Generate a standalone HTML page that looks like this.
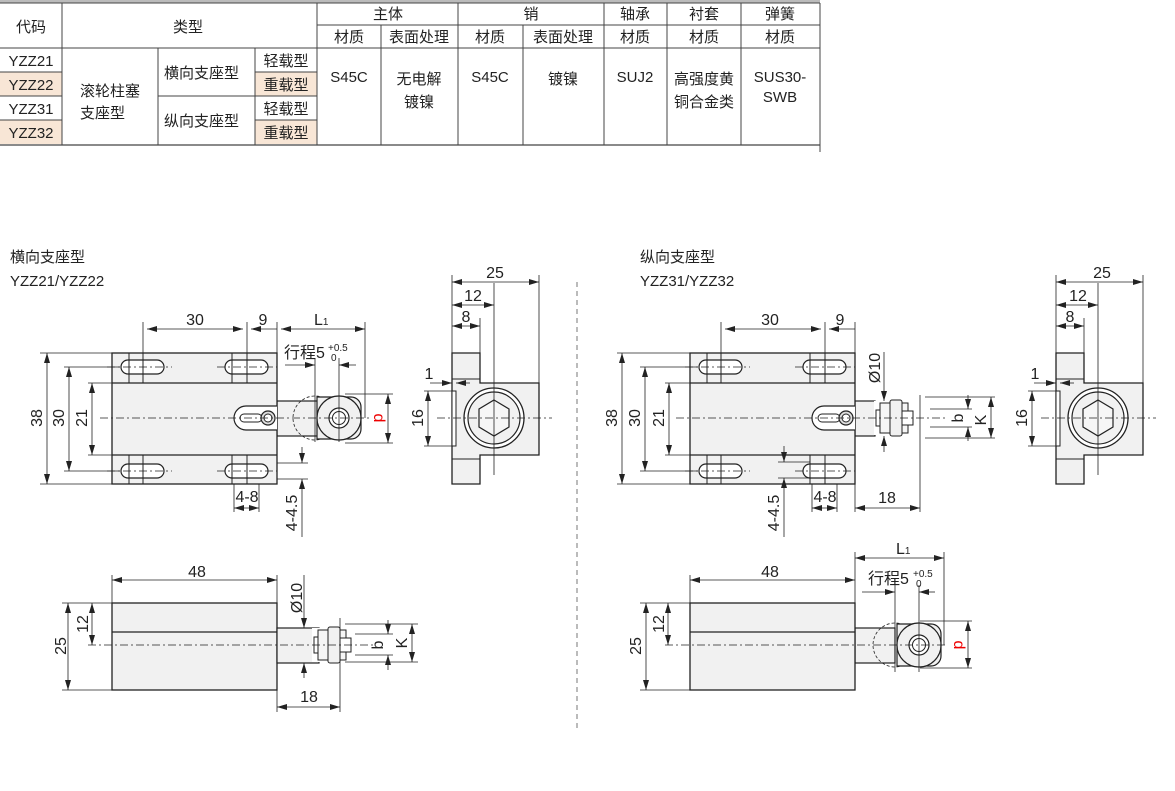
<!DOCTYPE html>
<html><head><meta charset="utf-8"><style>
body{margin:0;background:#fff;width:1175px;height:791px;overflow:hidden}
svg{display:block;font-family:"Liberation Sans","Noto Sans CJK SC",sans-serif}
</style></head><body>
<svg width="1175" height="791" viewBox="0 0 1175 791" xmlns="http://www.w3.org/2000/svg">
<defs>
<marker id="a" viewBox="0 0 10 6" refX="10" refY="3" markerWidth="10" markerHeight="6" orient="auto-start-reverse" markerUnits="userSpaceOnUse"><path d="M0,0L10,3L0,6z" fill="#222"/></marker>
<g id="tv">
<rect x="0" y="0" width="165" height="131" fill="#f1f1f1" stroke="#222" stroke-width="1.3"/>
<line x1="0" y1="30" x2="165" y2="30" stroke="#222" stroke-width="1.3"/>
<line x1="0" y1="102" x2="165" y2="102" stroke="#222" stroke-width="1.3"/>
<g fill="#fff" stroke="#222" stroke-width="1.2">
<rect x="9" y="7" width="43" height="14" rx="7"/><rect x="113" y="7" width="43" height="14" rx="7"/>
<rect x="9" y="111" width="43" height="14" rx="7"/><rect x="113" y="111" width="43" height="14" rx="7"/>
</g>
<g stroke="#222" stroke-width="1">
<line x1="17" y1="0" x2="17" y2="30"/><line x1="31" y1="0" x2="31" y2="30"/><line x1="120" y1="0" x2="120" y2="30"/><line x1="135" y1="0" x2="135" y2="30"/>
<line x1="17" y1="102" x2="17" y2="131"/><line x1="31" y1="102" x2="31" y2="131"/><line x1="120" y1="102" x2="120" y2="131"/><line x1="135" y1="102" x2="135" y2="131"/>
</g>
<g stroke="#222" stroke-width="0.8" stroke-dasharray="8,3,2,3">
<line x1="-5" y1="14" x2="60" y2="14"/><line x1="105" y1="14" x2="165" y2="14"/><line x1="-5" y1="118" x2="60" y2="118"/><line x1="105" y1="118" x2="165" y2="118"/>
</g>
<path d="M165,53 H134 a12,12 0 0 0 0,24 H165" fill="#fff" stroke="#222" stroke-width="1.2"/>
<rect x="128" y="61" width="22" height="8" rx="4" fill="#fff" stroke="#222"/>
<circle cx="156" cy="65" r="7" fill="#ddd" stroke="#222" stroke-width="1.2"/><circle cx="156" cy="65" r="4" fill="#fff" stroke="#222"/>
</g>
<g id="sv">
<path d="M0,0 H28 V30 H87 V102 H28 V131 H0 Z" fill="#f1f1f1" stroke="#222" stroke-width="1.3"/>
<rect x="0" y="38" width="4" height="55" fill="#fff" stroke="#222"/>
<line x1="0" y1="26" x2="28" y2="26" stroke="#222"/><line x1="0" y1="106" x2="28" y2="106" stroke="#222"/>
<circle cx="42" cy="65" r="30" fill="#fff" stroke="#222" stroke-width="1.3"/>
<circle cx="42" cy="65" r="26" fill="#f1f1f1" stroke="#222" stroke-width="1.2"/>
<polygon points="42,47 57,56 57,74 42,83 27,74 27,56" fill="#f6f6f6" stroke="#222" stroke-width="1.2"/>
<line x1="-15" y1="65" x2="100" y2="65" stroke="#222" stroke-width="0.8" stroke-dasharray="8,3,2,3"/>
<line x1="42" y1="-70" x2="42" y2="122" stroke="#222" stroke-width="0.8"/>
</g>
<g id="bv">
<rect x="0" y="0" width="165" height="87" fill="#f1f1f1" stroke="#222" stroke-width="1.3"/>
<line x1="0" y1="29" x2="165" y2="29" stroke="#222" stroke-width="1.3"/>
</g>
<g id="roller">
<circle cx="-24" cy="0" r="22" fill="none" stroke="#222" stroke-width="0.8" stroke-dasharray="3,2"/>
<path d="M-22,-21 H12 a10,10 0 0 1 10,10 V11 a10,10 0 0 1 -10,10 H-22 Z" fill="#f1f1f1" stroke="#222" stroke-width="1.2"/>
<circle cx="0" cy="0" r="22" fill="#f1f1f1" stroke="#222" stroke-width="1.2"/>
<circle cx="0" cy="0" r="10" fill="#fff" stroke="#222" stroke-width="1.2"/>
<circle cx="0" cy="0" r="6.5" fill="#fff" stroke="#222"/>
</g>
<g id="pin">
<rect x="14" y="-17" width="36" height="34" fill="#fff" stroke="none"/>
<rect x="16" y="-8" width="12" height="16" fill="#fff" stroke="#222"/>
<rect x="20" y="-15" width="28" height="30" fill="#f6f6f6" stroke="#222"/>
<rect x="30" y="-18" width="12" height="36" rx="2" fill="#f1f1f1" stroke="#222"/>
<rect x="42" y="-7" width="11" height="14" fill="#fff" stroke="#222"/>
</g>
</defs>

<!-- TABLE -->
<g font-size="15" fill="#222">
<rect x="0" y="0" width="820" height="3" fill="#bbb"/>
<rect x="0" y="72" width="62" height="24" fill="#f8e6d6"/><rect x="0" y="120" width="62" height="24" fill="#f8e6d6"/>
<rect x="255" y="72" width="62" height="24" fill="#f8e6d6"/><rect x="255" y="120" width="62" height="24" fill="#f8e6d6"/>
<g stroke="#444" stroke-width="1" fill="none">
<line x1="0" y1="3" x2="820" y2="3"/>
<line x1="317" y1="25" x2="820" y2="25"/>
<line x1="0" y1="48" x2="820" y2="48"/>
<line x1="0" y1="145" x2="820" y2="145" stroke-width="1.3"/>
<line x1="0" y1="72" x2="62" y2="72"/><line x1="0" y1="96" x2="62" y2="96"/><line x1="0" y1="120" x2="62" y2="120"/>
<line x1="158" y1="96" x2="317" y2="96"/><line x1="255" y1="72" x2="317" y2="72"/><line x1="255" y1="120" x2="317" y2="120"/>
<line x1="62" y1="3" x2="62" y2="145"/><line x1="158" y1="48" x2="158" y2="145"/><line x1="255" y1="48" x2="255" y2="145"/>
<line x1="317" y1="3" x2="317" y2="145"/><line x1="381" y1="25" x2="381" y2="145"/><line x1="458" y1="3" x2="458" y2="145"/>
<line x1="523" y1="25" x2="523" y2="145"/><line x1="604" y1="3" x2="604" y2="145"/><line x1="667" y1="3" x2="667" y2="145"/><line x1="741" y1="3" x2="741" y2="145"/>
<line x1="820" y1="3" x2="820" y2="152"/>
</g>
<text x="31" y="32" text-anchor="middle">代码</text><text x="188" y="32" text-anchor="middle">类型</text>
<text x="388" y="19" text-anchor="middle">主体</text><text x="531" y="19" text-anchor="middle">销</text>
<text x="635" y="19" text-anchor="middle">轴承</text><text x="704" y="19" text-anchor="middle">衬套</text><text x="780" y="19" text-anchor="middle">弹簧</text>
<text x="349" y="42" text-anchor="middle">材质</text><text x="419" y="42" text-anchor="middle">表面处理</text>
<text x="490" y="42" text-anchor="middle">材质</text><text x="563" y="42" text-anchor="middle">表面处理</text>
<text x="635" y="42" text-anchor="middle">材质</text><text x="704" y="42" text-anchor="middle">材质</text><text x="780" y="42" text-anchor="middle">材质</text>
<text x="31" y="66" text-anchor="middle">YZZ21</text><text x="31" y="90" text-anchor="middle">YZZ22</text>
<text x="31" y="114" text-anchor="middle">YZZ31</text><text x="31" y="138" text-anchor="middle">YZZ32</text>
<text x="80" y="96">滚轮柱塞</text><text x="80" y="118">支座型</text>
<text x="164" y="78">横向支座型</text><text x="164" y="126">纵向支座型</text>
<text x="286" y="66" text-anchor="middle">轻载型</text><text x="286" y="90" text-anchor="middle">重载型</text>
<text x="286" y="114" text-anchor="middle">轻载型</text><text x="286" y="138" text-anchor="middle">重载型</text>
<text x="349" y="82" text-anchor="middle">S45C</text><text x="419" y="84" text-anchor="middle">无电解</text><text x="419" y="107" text-anchor="middle">镀镍</text>
<text x="490" y="82" text-anchor="middle">S45C</text><text x="563" y="84" text-anchor="middle">镀镍</text>
<text x="635" y="82" text-anchor="middle">SUJ2</text><text x="704" y="84" text-anchor="middle">高强度黄</text><text x="704" y="107" text-anchor="middle">铜合金类</text>
<text x="780" y="82" text-anchor="middle">SUS30-</text><text x="780" y="102" text-anchor="middle">SWB</text>
</g>

<g font-size="15" fill="#222">
<text x="10" y="262">横向支座型</text><text x="10" y="286">YZZ21/YZZ22</text>
<text x="640" y="262">纵向支座型</text><text x="640" y="286">YZZ31/YZZ32</text>
</g>
<line x1="577" y1="282" x2="577" y2="728" stroke="#777" stroke-dasharray="5,4"/>

<!-- LEFT TOP VIEW -->
<rect x="277" y="401" width="42" height="35" fill="#f1f1f1" stroke="#222" stroke-width="1.2"/>
<use href="#tv" x="112" y="353"/>
<use href="#roller" x="339" y="418"/>
<line x1="100" y1="418" x2="372" y2="418" stroke="#222" stroke-width="0.8" stroke-dasharray="8,3,2,3"/>
<g stroke="#222" stroke-width="0.8" fill="none">
<line x1="143" y1="322" x2="143" y2="353"/><line x1="247" y1="322" x2="247" y2="353"/><line x1="277" y1="322" x2="277" y2="401"/><line x1="365" y1="322" x2="365" y2="418"/>
<line x1="147" y1="329" x2="243" y2="329" marker-start="url(#a)" marker-end="url(#a)"/>
<line x1="251" y1="329" x2="277" y2="329" marker-start="url(#a)"/>
<line x1="281" y1="329" x2="365" y2="329" marker-start="url(#a)" marker-end="url(#a)"/>
<line x1="285" y1="365" x2="315" y2="365" marker-end="url(#a)"/><line x1="356" y1="365" x2="339" y2="365" marker-end="url(#a)"/>
<line x1="315" y1="358" x2="315" y2="442"/><line x1="339" y1="358" x2="339" y2="442"/>
<line x1="40" y1="353" x2="112" y2="353"/><line x1="40" y1="484" x2="112" y2="484"/>
<line x1="47" y1="353" x2="47" y2="484" marker-start="url(#a)" marker-end="url(#a)"/>
<line x1="64" y1="367" x2="120" y2="367"/><line x1="64" y1="471" x2="120" y2="471"/>
<line x1="69" y1="367" x2="69" y2="471" marker-start="url(#a)" marker-end="url(#a)"/>
<line x1="88" y1="383" x2="112" y2="383"/><line x1="88" y1="455" x2="112" y2="455"/>
<line x1="92" y1="383" x2="92" y2="455" marker-start="url(#a)" marker-end="url(#a)"/>
<line x1="345" y1="394" x2="393" y2="394"/><line x1="345" y1="443" x2="393" y2="443"/>
<line x1="388" y1="394" x2="388" y2="443" marker-start="url(#a)" marker-end="url(#a)"/>
<line x1="234" y1="484" x2="234" y2="512"/><line x1="259" y1="484" x2="259" y2="512"/>
<line x1="234" y1="508" x2="259" y2="508" marker-start="url(#a)" marker-end="url(#a)"/>
<line x1="277" y1="463" x2="308" y2="463"/><line x1="277" y1="479" x2="308" y2="479"/>
<line x1="302" y1="447" x2="302" y2="463" marker-end="url(#a)"/><line x1="302" y1="537" x2="302" y2="479" marker-end="url(#a)"/>
</g>
<g font-size="16" fill="#222">
<text x="195" y="325" text-anchor="middle">30</text><text x="263" y="325" text-anchor="middle">9</text>
<text x="314" y="325">L<tspan font-size="10">1</tspan></text>
<text x="284" y="358">行程5</text><text x="328" y="351" font-size="10">+0.5</text><text x="331" y="361" font-size="10">0</text>
<text transform="translate(42,418) rotate(-90)" text-anchor="middle">38</text>
<text transform="translate(64,418) rotate(-90)" text-anchor="middle">30</text>
<text transform="translate(87,418) rotate(-90)" text-anchor="middle">21</text>
<text transform="translate(374,418) rotate(90)" text-anchor="middle" fill="#e00">d</text>
<text x="247" y="502" text-anchor="middle">4-8</text>
<text transform="translate(297,513) rotate(-90)" text-anchor="middle">4-4.5</text>
</g>

<!-- LEFT SIDE VIEW -->
<use href="#sv" x="452" y="353"/>
<g stroke="#222" stroke-width="0.8">
<line x1="452" y1="275" x2="452" y2="353"/><line x1="539" y1="275" x2="539" y2="383"/><line x1="480" y1="318" x2="480" y2="353"/>
<line x1="452" y1="282" x2="539" y2="282" marker-start="url(#a)" marker-end="url(#a)"/>
<line x1="452" y1="305" x2="494" y2="305" marker-start="url(#a)" marker-end="url(#a)"/>
<line x1="452" y1="326" x2="480" y2="326" marker-start="url(#a)" marker-end="url(#a)"/>
<line x1="430" y1="383" x2="452" y2="383" marker-end="url(#a)"/><line x1="470" y1="383" x2="456" y2="383" marker-end="url(#a)"/>
<line x1="424" y1="391" x2="452" y2="391"/><line x1="424" y1="446" x2="452" y2="446"/>
<line x1="428" y1="391" x2="428" y2="446" marker-start="url(#a)" marker-end="url(#a)"/>
</g>
<g font-size="16" fill="#222">
<text x="495" y="278" text-anchor="middle">25</text><text x="473" y="301" text-anchor="middle">12</text><text x="466" y="322" text-anchor="middle">8</text>
<text x="429" y="379" text-anchor="middle">1</text>
<text transform="translate(423,418) rotate(-90)" text-anchor="middle">16</text>
</g>

<!-- LEFT BOTTOM VIEW -->
<use href="#bv" x="112" y="603"/>
<rect x="277" y="628" width="42" height="35" fill="#f1f1f1" stroke="#222" stroke-width="1.2"/>
<use href="#pin" x="298" y="645"/>
<line x1="88" y1="645" x2="375" y2="645" stroke="#222" stroke-width="0.8" stroke-dasharray="8,3,2,3"/>
<g stroke="#222" stroke-width="0.8">
<line x1="112" y1="575" x2="112" y2="603"/><line x1="277" y1="575" x2="277" y2="712"/>
<line x1="112" y1="580" x2="277" y2="580" marker-start="url(#a)" marker-end="url(#a)"/>
<line x1="62" y1="603" x2="112" y2="603"/><line x1="62" y1="690" x2="112" y2="690"/>
<line x1="68" y1="603" x2="68" y2="690" marker-start="url(#a)" marker-end="url(#a)"/>
<line x1="92" y1="603" x2="92" y2="645" marker-start="url(#a)" marker-end="url(#a)"/>
<line x1="304" y1="575" x2="304" y2="628" marker-end="url(#a)"/><line x1="304" y1="678" x2="304" y2="663" marker-end="url(#a)"/>
<line x1="340" y1="618" x2="340" y2="712"/>
<line x1="277" y1="707" x2="340" y2="707" marker-start="url(#a)" marker-end="url(#a)"/>
<line x1="345" y1="624" x2="418" y2="624"/><line x1="345" y1="662" x2="418" y2="662"/>
<line x1="355" y1="634" x2="393" y2="634"/><line x1="355" y1="655" x2="393" y2="655"/>
<line x1="388" y1="620" x2="388" y2="634" marker-end="url(#a)"/><line x1="388" y1="670" x2="388" y2="655" marker-end="url(#a)"/>
<line x1="412" y1="624" x2="412" y2="662" marker-start="url(#a)" marker-end="url(#a)"/>
</g>
<g font-size="16" fill="#222">
<text x="197" y="577" text-anchor="middle">48</text>
<text transform="translate(66,646) rotate(-90)" text-anchor="middle">25</text>
<text transform="translate(88,624) rotate(-90)" text-anchor="middle">12</text>
<text transform="translate(302,598) rotate(-90)" text-anchor="middle">Ø10</text>
<text x="309" y="702" text-anchor="middle">18</text>
<text transform="translate(383,645) rotate(-90)" text-anchor="middle">b</text>
<text transform="translate(407,643) rotate(-90)" text-anchor="middle">K</text>
</g>

<!-- RIGHT TOP VIEW -->
<rect x="855" y="401" width="20" height="35" fill="#f1f1f1" stroke="#222" stroke-width="1.2"/>
<use href="#tv" x="690" y="353"/>
<use href="#pin" x="860" y="418"/>
<line x1="676" y1="418" x2="948" y2="418" stroke="#222" stroke-width="0.8" stroke-dasharray="8,3,2,3"/>
<g stroke="#222" stroke-width="0.8">
<line x1="721" y1="322" x2="721" y2="353"/><line x1="825" y1="322" x2="825" y2="353"/><line x1="855" y1="322" x2="855" y2="353"/>
<line x1="725" y1="329" x2="821" y2="329" marker-start="url(#a)" marker-end="url(#a)"/>
<line x1="829" y1="329" x2="855" y2="329" marker-start="url(#a)"/>
<line x1="617" y1="353" x2="690" y2="353"/><line x1="617" y1="484" x2="690" y2="484"/>
<line x1="622" y1="353" x2="622" y2="484" marker-start="url(#a)" marker-end="url(#a)"/>
<line x1="640" y1="367" x2="698" y2="367"/><line x1="640" y1="471" x2="698" y2="471"/>
<line x1="645" y1="367" x2="645" y2="471" marker-start="url(#a)" marker-end="url(#a)"/>
<line x1="665" y1="383" x2="690" y2="383"/><line x1="665" y1="455" x2="690" y2="455"/>
<line x1="669" y1="383" x2="669" y2="455" marker-start="url(#a)" marker-end="url(#a)"/>
<line x1="884" y1="352" x2="884" y2="401" marker-end="url(#a)"/><line x1="884" y1="452" x2="884" y2="436" marker-end="url(#a)"/>
<line x1="920" y1="395" x2="920" y2="512"/><line x1="855" y1="484" x2="855" y2="512"/>
<line x1="855" y1="508" x2="920" y2="508" marker-start="url(#a)" marker-end="url(#a)"/>
<line x1="925" y1="397" x2="995" y2="397"/><line x1="925" y1="438" x2="995" y2="438"/>
<line x1="930" y1="409" x2="972" y2="409"/><line x1="930" y1="427" x2="972" y2="427"/>
<line x1="968" y1="395" x2="968" y2="409" marker-end="url(#a)"/><line x1="968" y1="441" x2="968" y2="427" marker-end="url(#a)"/>
<line x1="991" y1="397" x2="991" y2="438" marker-start="url(#a)" marker-end="url(#a)"/>
<line x1="812" y1="484" x2="812" y2="512"/><line x1="837" y1="484" x2="837" y2="512"/>
<line x1="812" y1="508" x2="837" y2="508" marker-start="url(#a)" marker-end="url(#a)"/>
<line x1="778" y1="462" x2="810" y2="462"/><line x1="778" y1="478" x2="810" y2="478"/>
<line x1="784" y1="446" x2="784" y2="462" marker-end="url(#a)"/><line x1="784" y1="537" x2="784" y2="478" marker-end="url(#a)"/>
</g>
<g font-size="16" fill="#222">
<text x="770" y="325" text-anchor="middle">30</text><text x="840" y="325" text-anchor="middle">9</text>
<text transform="translate(880,368) rotate(-90)" text-anchor="middle">Ø10</text>
<text transform="translate(963,418) rotate(-90)" text-anchor="middle">b</text>
<text transform="translate(986,420) rotate(-90)" text-anchor="middle">K</text>
<text transform="translate(617,418) rotate(-90)" text-anchor="middle">38</text>
<text transform="translate(640,418) rotate(-90)" text-anchor="middle">30</text>
<text transform="translate(664,418) rotate(-90)" text-anchor="middle">21</text>
<text x="825" y="502" text-anchor="middle">4-8</text>
<text x="887" y="503" text-anchor="middle">18</text>
<text transform="translate(779,513) rotate(-90)" text-anchor="middle">4-4.5</text>
</g>

<!-- RIGHT SIDE VIEW -->
<use href="#sv" x="1056" y="353"/>
<g stroke="#222" stroke-width="0.8">
<line x1="1056" y1="275" x2="1056" y2="353"/><line x1="1143" y1="275" x2="1143" y2="383"/><line x1="1084" y1="318" x2="1084" y2="353"/>
<line x1="1056" y1="282" x2="1143" y2="282" marker-start="url(#a)" marker-end="url(#a)"/>
<line x1="1056" y1="305" x2="1098" y2="305" marker-start="url(#a)" marker-end="url(#a)"/>
<line x1="1056" y1="326" x2="1084" y2="326" marker-start="url(#a)" marker-end="url(#a)"/>
<line x1="1034" y1="383" x2="1056" y2="383" marker-end="url(#a)"/><line x1="1074" y1="383" x2="1060" y2="383" marker-end="url(#a)"/>
<line x1="1028" y1="391" x2="1056" y2="391"/><line x1="1028" y1="446" x2="1056" y2="446"/>
<line x1="1032" y1="391" x2="1032" y2="446" marker-start="url(#a)" marker-end="url(#a)"/>
</g>
<g font-size="16" fill="#222">
<text x="1102" y="278" text-anchor="middle">25</text><text x="1078" y="301" text-anchor="middle">12</text><text x="1070" y="322" text-anchor="middle">8</text>
<text x="1035" y="379" text-anchor="middle">1</text>
<text transform="translate(1027,418) rotate(-90)" text-anchor="middle">16</text>
</g>

<!-- RIGHT BOTTOM VIEW -->
<rect x="855" y="628" width="40" height="35" fill="#f1f1f1" stroke="#222" stroke-width="1.2"/>
<use href="#bv" x="690" y="603"/>
<use href="#roller" x="919" y="645"/>
<line x1="665" y1="645" x2="945" y2="645" stroke="#222" stroke-width="0.8" stroke-dasharray="8,3,2,3"/>
<g stroke="#222" stroke-width="0.8">
<line x1="690" y1="575" x2="690" y2="603"/><line x1="855" y1="552" x2="855" y2="603"/><line x1="944" y1="552" x2="944" y2="645"/>
<line x1="690" y1="580" x2="855" y2="580" marker-start="url(#a)" marker-end="url(#a)"/>
<line x1="855" y1="558" x2="944" y2="558" marker-start="url(#a)" marker-end="url(#a)"/>
<line x1="862" y1="592" x2="895" y2="592" marker-end="url(#a)"/><line x1="935" y1="592" x2="919" y2="592" marker-end="url(#a)"/>
<line x1="895" y1="585" x2="895" y2="672"/><line x1="919" y1="585" x2="919" y2="672"/>
<line x1="640" y1="603" x2="690" y2="603"/><line x1="640" y1="690" x2="690" y2="690"/>
<line x1="646" y1="603" x2="646" y2="690" marker-start="url(#a)" marker-end="url(#a)"/>
<line x1="668" y1="603" x2="668" y2="645" marker-start="url(#a)" marker-end="url(#a)"/>
<line x1="920" y1="621" x2="972" y2="621"/><line x1="920" y1="668" x2="972" y2="668"/>
<line x1="968" y1="621" x2="968" y2="668" marker-start="url(#a)" marker-end="url(#a)"/>
</g>
<g font-size="16" fill="#222">
<text x="770" y="577" text-anchor="middle">48</text>
<text x="896" y="554">L<tspan font-size="10">1</tspan></text>
<text x="868" y="584">行程5</text><text x="913" y="577" font-size="10">+0.5</text><text x="916" y="587" font-size="10">0</text>
<text transform="translate(641,646) rotate(-90)" text-anchor="middle">25</text>
<text transform="translate(664,624) rotate(-90)" text-anchor="middle">12</text>
<text transform="translate(954,645) rotate(90)" text-anchor="middle" fill="#e00">d</text>
</g>
</svg>
</body></html>
